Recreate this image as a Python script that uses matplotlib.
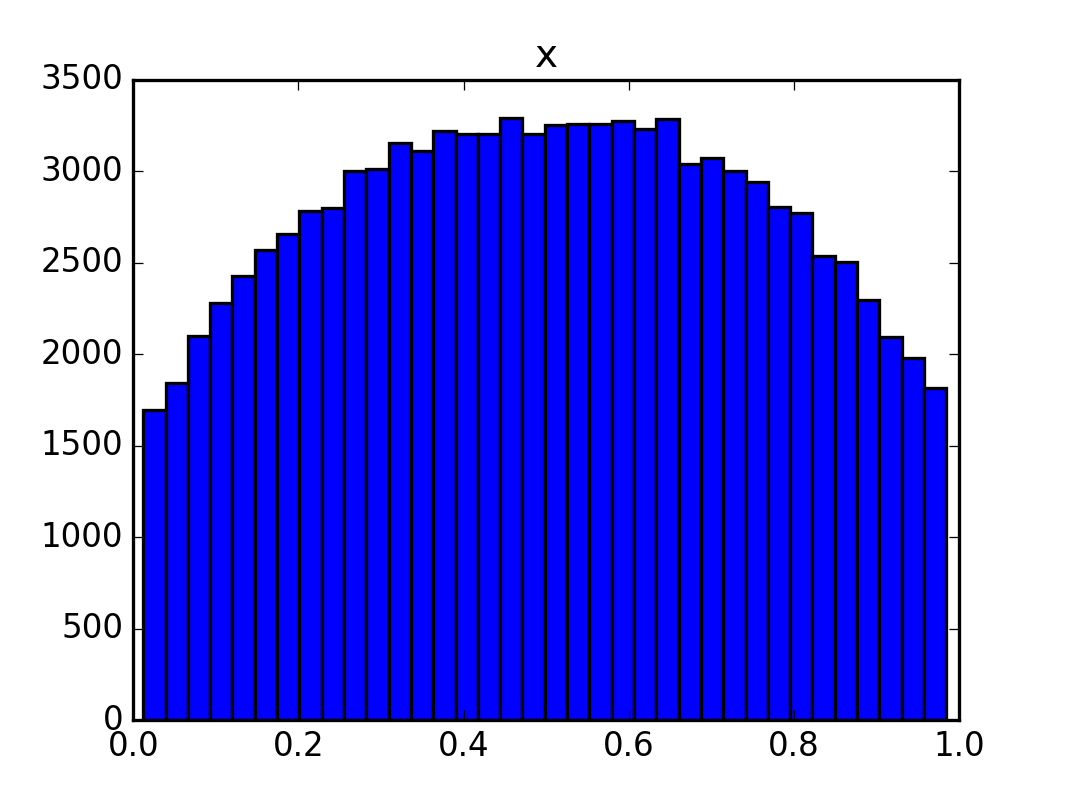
import matplotlib
matplotlib.use('Agg')
import matplotlib.pyplot as plt
import numpy as np

# histogram of x, 36 bins
bin_lo = 0.0121
bin_hi = 0.9841
counts = [1696, 1845, 2101, 2282, 2430, 2573, 2658, 2786, 2801, 3005,
          3016, 3158, 3110, 3221, 3203, 3203, 3290, 3203, 3253, 3259,
          3258, 3275, 3230, 3285, 3039, 3071, 3000, 2940, 2808, 2770,
          2538, 2505, 2297, 2094, 1979, 1815]

plt.style.use('classic')
plt.rcParams['font.size'] = 12.8
plt.rcParams['axes.linewidth'] = 1.3
plt.rcParams['patch.linewidth'] = 1.3

edges = np.linspace(bin_lo, bin_hi, len(counts) + 1)

dpi = 183
fig = plt.figure(figsize=(1066 / dpi, 800 / dpi), dpi=dpi)
ax = fig.add_subplot(111)
ax.hist(edges[:-1], bins=edges, weights=counts, color='blue', edgecolor='black')
ax.set_title('x')
ax.set_xlim(0.0, 1.0)
ax.set_ylim(0, 3500)

fig.savefig('out.png', dpi=dpi, facecolor='white')
